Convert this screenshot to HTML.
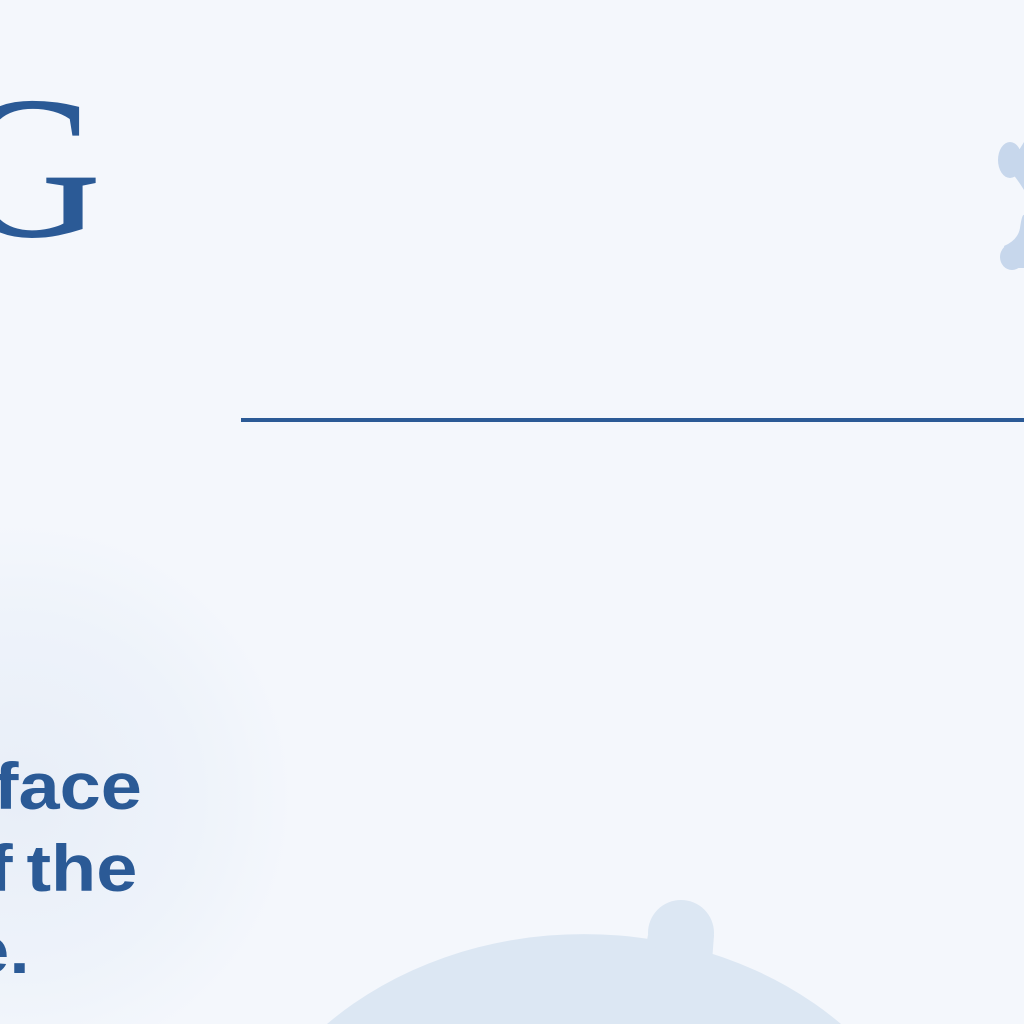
<!DOCTYPE html>
<html><head><meta charset="utf-8"><style>
html,body{margin:0;padding:0;width:1024px;height:1024px;overflow:hidden;}
body{background:#f4f7fc;font-family:"Liberation Sans",sans-serif;}
#frame{position:relative;width:1024px;height:1024px;overflow:hidden;}
.glow{position:absolute;left:-260px;top:520px;width:560px;height:504px;border-radius:50% 50% 0 0/50% 50% 0 0;background:radial-gradient(circle at 50% 55%,#e8eef8 0%,#eef3fa 45%,rgba(244,247,252,0) 70%);}
.big{position:absolute;right:922px;top:66px;font-family:"Liberation Serif",serif;font-size:204px;line-height:204px;color:#2b5a96;white-space:nowrap;}
.rule{position:absolute;left:241px;top:418px;width:783px;height:4px;background:#2b5a96;}
.body{position:absolute;right:882px;top:745px;font-weight:bold;font-size:66px;line-height:82px;color:#2b5a96;text-align:right;white-space:nowrap;transform:scaleX(1.12);transform-origin:right top;}
.body div{position:relative;}
</style></head><body>
<div id="frame">
<div class="glow"></div>
<div class="big">ING</div>
<div class="rule"></div>
<div class="body">
<div>surface</div>
<div style="right:4px;word-spacing:-6px">of the</div>
<div style="right:100px">scale.</div>
</div>
<svg width="1024" height="1024" style="position:absolute;left:0;top:0">
<g fill="#c7d7ec">
<ellipse cx="1010" cy="160" rx="12" ry="18"/>
<path d="M1008 168 Q1018 180 1024 190 L1024 142 Z"/>
<ellipse cx="1012" cy="257" rx="12" ry="13"/>
<path d="M1004 246 Q1018 240 1020 228 Q1022 214 1024 215 L1024 268 L1010 268 Z"/>
</g>
<g fill="#dce7f3">
<path d="M327 1024 A360 300 0 0 1 841 1024 Z"/>
<circle cx="681" cy="933" r="33"/>
<path d="M648 935 L646 945 L712 962 L714 935 Z"/>
</g>
</svg>
</div>
</body></html>
